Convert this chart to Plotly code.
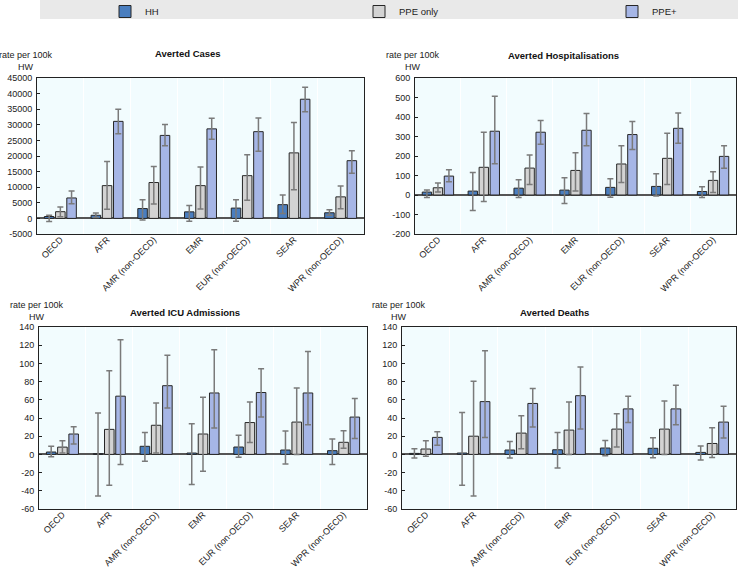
import plotly.graph_objects as go

W, H = 738, 573

categories = ["OECD", "AFR", "AMR (non-OECD)", "EMR", "EUR (non-OECD)", "SEAR", "WPR (non-OECD)"]
series_names = ["HH", "PPE only", "PPE+"]

# ---- Averted Cases ----
cases_hh = [600, 1000, 3150, 2100, 3300, 4400, 1800]
cases_hh_hi = [1000, 1700, 6000, 4100, 6000, 7500, 2800]
cases_hh_lo = [-1000, 300, -500, -900, -900, 1600, 1000]
cases_ppe = [2150, 10500, 11500, 10500, 13700, 21000, 6900]
cases_ppe_hi = [3650, 18200, 16600, 16500, 20400, 30700, 10400]
cases_ppe_lo = [550, 2900, 4600, 3000, 5800, 9200, 3100]
cases_plus = [6550, 31100, 26600, 28700, 27800, 38200, 18500]
cases_plus_hi = [8800, 35000, 30100, 32100, 32200, 42000, 21700]
cases_plus_lo = [4700, 27150, 23300, 25400, 21500, 34200, 14500]

# ---- Averted Hospitalisations ----
hosp_hh = [15, 20, 35, 25, 39, 44, 18]
hosp_hh_hi = [25, 116, 78, 88, 83, 109, 42]
hosp_hh_lo = [-13, -80, -13, -44, -11, -5, -13]
hosp_ppe = [37, 142, 138, 126, 159, 188, 75]
hosp_ppe_hi = [61, 322, 205, 217, 252, 317, 119]
hosp_ppe_lo = [16, -33, 54, 20, 64, 54, 13]
hosp_plus = [97, 327, 322, 332, 310, 342, 198]
hosp_plus_hi = [129, 507, 382, 418, 377, 421, 253]
hosp_plus_lo = [68, 160, 260, 253, 233, 265, 137]

# ---- Averted ICU Admissions ----
icu_hh = [2.6, 0.8, 8.9, 1.5, 8.1, 4.8, 4.1]
icu_hh_hi = [9, 45.5, 24, 33.8, 21, 25.7, 17]
icu_hh_lo = [-2.5, -45.6, -7.6, -33.2, -3, -10.6, -11]
icu_ppe = [8, 27.5, 32, 22.4, 35, 35.5, 13.3]
icu_ppe_hi = [15, 92, 56.5, 62.7, 57.5, 73, 26]
icu_ppe_lo = [1.5, -34, 1.5, -18.6, 13, 0, 6.7]
icu_plus = [22.4, 64, 75.5, 67.5, 68, 67.5, 41]
icu_plus_hi = [30.5, 126, 109, 115, 94, 113, 61.5]
icu_plus_lo = [11.4, -11, 51, 29, 41, 32.6, 17.6]

# ---- Averted Deaths ----
deaths_hh = [1.1, 1.5, 4.8, 5.1, 7, 6.7, 2.2]
deaths_hh_hi = [6.2, 46, 14.3, 24, 15.4, 18.3, 9.2]
deaths_hh_lo = [-4, -34, -4, -15, -1.5, -3.7, -6.2]
deaths_ppe = [5.9, 20, 23.4, 26.7, 27.8, 27.8, 12]
deaths_ppe_hi = [15, 80.5, 42.5, 57.5, 44.7, 58.6, 29.3]
deaths_ppe_lo = [-2, -45.8, 6.2, 0, 8, 0, -3.3]
deaths_plus = [18.7, 58, 56, 64.5, 50, 50, 35.5]
deaths_plus_hi = [25, 114, 72.5, 96, 64, 76, 53]
deaths_plus_lo = [10, 18.7, 30, 28, 35, 32.6, 18]

panels = [
    dict(title="Averted Cases", series=[(cases_hh, cases_hh_hi, cases_hh_lo),
                                        (cases_ppe, cases_ppe_hi, cases_ppe_lo),
                                        (cases_plus, cases_plus_hi, cases_plus_lo)],
         yr=(-5000, 45000), dt=5000,
         box=(37, 364, 78, 234), title_xy=(188, 54), unit_xy=(26, 55)),
    dict(title="Averted Hospitalisations", series=[(hosp_hh, hosp_hh_hi, hosp_hh_lo),
                                                   (hosp_ppe, hosp_ppe_hi, hosp_ppe_lo),
                                                   (hosp_plus, hosp_plus_hi, hosp_plus_lo)],
         yr=(-200, 600), dt=100,
         box=(415, 736, 78, 234), title_xy=(563, 56), unit_xy=(413, 55)),
    dict(title="Averted ICU Admissions", series=[(icu_hh, icu_hh_hi, icu_hh_lo),
                                                 (icu_ppe, icu_ppe_hi, icu_ppe_lo),
                                                 (icu_plus, icu_plus_hi, icu_plus_lo)],
         yr=(-60, 140), dt=20,
         box=(39, 367, 327, 509), title_xy=(185, 312), unit_xy=(37, 305)),
    dict(title="Averted Deaths", series=[(deaths_hh, deaths_hh_hi, deaths_hh_lo),
                                         (deaths_ppe, deaths_ppe_hi, deaths_ppe_lo),
                                         (deaths_plus, deaths_plus_hi, deaths_plus_lo)],
         yr=(-60, 140), dt=20,
         box=(402, 736, 327, 509), title_xy=(554, 312), unit_xy=(399, 305)),
]

colors = ["#4A7EBF", "#D3D3D3", "#A6B6E6"]
legend_ids = ["legend", "legend2", "legend3"]
legend_x = [105, 359, 612]
FONT = "Arial, Liberation Sans, sans-serif"


def px_x(p):
    return p / W


def px_y(p):
    return 1 - p / H


fig = go.Figure()
annotations = []
layout = {}

for i, pnl in enumerate(panels):
    n = "" if i == 0 else str(i + 1)
    xa, ya = "x" + n, "y" + n
    x0, x1, y0, y1 = pnl["box"]
    for j, (vals, hi, lo) in enumerate(pnl["series"]):
        fig.add_trace(go.Bar(
            x=categories, y=vals, name=series_names[j],
            marker=dict(color=colors[j], line=dict(color="#262626", width=1)),
            error_y=dict(type="data", symmetric=False,
                         array=[h - v for h, v in zip(hi, vals)],
                         arrayminus=[v - l for v, l in zip(vals, lo)],
                         color="#7a7a7a", thickness=1.5, width=3),
            xaxis=xa, yaxis=ya, legendgroup=series_names[j],
            legend=legend_ids[j], showlegend=(i == 0),
        ))
    lo_r, hi_r = pnl["yr"]
    tv = list(range(lo_r, hi_r + 1, pnl["dt"]))
    layout["xaxis" + n] = dict(
        domain=[px_x(x0), px_x(x1)], anchor=ya, type="category",
        tickangle=-45, tickson="boundaries", ticks="", showgrid=True,
        gridcolor="#ffffff", gridwidth=1, automargin=False,
        ticklabelstandoff=-4,
        showline=True, linecolor="#222222", linewidth=1, mirror=True,
        tickfont=dict(family=FONT, size=9, color="#222222"),
    )
    layout["yaxis" + n] = dict(
        domain=[px_y(y1), px_y(y0)], anchor=xa, range=[lo_r, hi_r],
        tickvals=tv, ticktext=[str(v) for v in tv], automargin=False,
        ticks="inside", ticklen=3, tickcolor="#222222", ticklabelstandoff=2,
        showgrid=False, zeroline=True, zerolinecolor="#555555", zerolinewidth=1.5,
        showline=True, linecolor="#222222", linewidth=1, mirror=True,
        tickfont=dict(family=FONT, size=9, color="#222222"),
    )
    tx, ty = pnl["title_xy"]
    annotations.append(dict(text="<b>" + pnl["title"] + "</b>", x=px_x(tx), y=px_y(ty),
                            xref="paper", yref="paper", showarrow=False,
                            xanchor="center", yanchor="middle",
                            font=dict(family=FONT, size=9.5, color="#111111")))
    ux, uy = pnl["unit_xy"]
    annotations.append(dict(text="rate per 100k<br>HW", x=px_x(ux), y=px_y(uy - 7),
                            xref="paper", yref="paper", showarrow=False,
                            xanchor="center", yanchor="top", align="center",
                            font=dict(family=FONT, size=9, color="#222222")))

fig.update_layout(**layout)
leg_common = dict(orientation="h", y=1 + 3 / H, yanchor="top", xanchor="left",
                  bgcolor="rgba(0,0,0,0)", font=dict(family=FONT, size=9.5, color="#222222"),
                  itemclick=False, itemdoubleclick=False)
legends = {lid: dict(x=px_x(lx), **leg_common) for lid, lx in zip(legend_ids, legend_x)}

fig.update_layout(
    width=W, height=H, margin=dict(l=0, r=0, t=0, b=0, autoexpand=False),
    paper_bgcolor="#ffffff", plot_bgcolor="#F2FCFE",
    barmode="group", bargap=0.28, bargroupgap=0.15,
    annotations=annotations,
    shapes=[dict(type="rect", xref="paper", yref="paper", x0=px_x(40), x1=1,
                 y0=px_y(19), y1=1, fillcolor="#E9E9E9", line=dict(width=0), layer="below")],
    font=dict(family=FONT),
    **legends,
)

fig.write_html("out.html", config={"displayModeBar": False},
               post_script="document.body.style.margin='0';document.body.style.overflow='hidden';")
